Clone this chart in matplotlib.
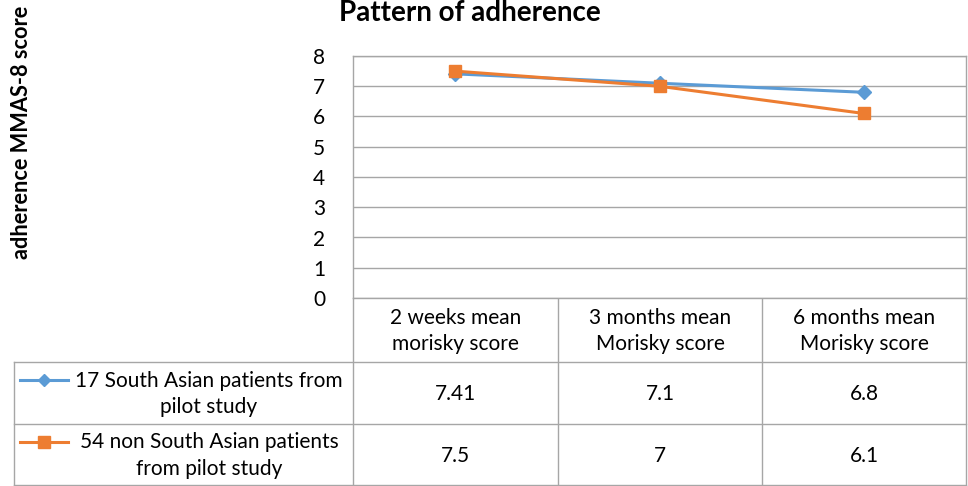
import matplotlib.pyplot as plt
import numpy as np

plt.rcParams['font.family'] = ['Lato', 'DejaVu Sans']

# data
categories = ['2 weeks mean\nmorisky score', '3 months mean\nMorisky score', '6 months mean\nMorisky score']
series_names = ['17 South Asian patients from\npilot study', '54 non South Asian patients\nfrom pilot study']
south_asian = [7.41, 7.1, 6.8]
non_south_asian = [7.5, 7, 6.1]
value_labels = [['7.41', '7.1', '6.8'], ['7.5', '7', '6.1']]
yticks = [0, 1, 2, 3, 4, 5, 6, 7, 8]

blue = '#5B9BD5'
orange = '#ED7D31'
grid = '#A6A6A6'

W, H = 968, 486
fig = plt.figure(figsize=(W / 100, H / 100), dpi=100)

# pixel helpers for placing the plot box
left, right, top, bottom = 353, 966, 56, 298
ax = fig.add_axes([left / W, 1 - bottom / H, (right - left) / W, (bottom - top) / H])
x = np.arange(len(categories)) + 0.5
ax.plot(x, south_asian, color=blue, lw=2.2, marker='D', ms=7, zorder=3)
ax.plot(x, non_south_asian, color=orange, lw=2.2, marker='s', ms=8.5, zorder=3)
ax.set_xlim(0, len(categories))
ax.set_ylim(0, 8)
ax.set_yticks(yticks)
ax.set_yticklabels([str(t) for t in yticks], fontsize=15)
ax.tick_params(axis='y', length=0, pad=20)
ax.set_xticks([])
ax.grid(axis='y', color=grid, lw=1)
for s in ax.spines.values():
    s.set_color(grid)
    s.set_linewidth(1)
ax.set_axisbelow(True)

fig.text(470 / W, 1 - 21 / H, 'Pattern of adherence', ha='center', va='baseline',
         fontsize=20, fontweight='bold')
fig.text(22 / W, 1 - 132 / H, 'adherence MMAS-8 score', ha='center', va='center',
         rotation=90, fontsize=15.7, fontweight='bold')

# data table below the plot
tb = fig.add_axes([0, 0, 1, 1], zorder=-1)
tb.set_xlim(0, W)
tb.set_ylim(H, 0)
tb.axis('off')
cols = [353, 558, 762, 966]
rows = [298, 362, 424, 485]
for cx in cols:
    tb.plot([cx, cx], [rows[0], rows[-1]], color=grid, lw=1)
tb.plot([14, 14], [rows[1], rows[-1]], color=grid, lw=1)
for ry in rows[1:]:
    tb.plot([14, 966], [ry, ry], color=grid, lw=1)

for i, cat in enumerate(categories):
    cx = (cols[i] + cols[i + 1]) / 2
    tb.text(cx, (rows[0] + rows[1]) / 2 + 1, cat, ha='center', va='center',
            fontsize=15, linespacing=1.4)

colors = [blue, orange]
markers = ['D', 's']
msizes = [6, 8]
for r, name in enumerate(series_names):
    y0 = rows[r + 1]
    cy = (rows[r + 1] + rows[r + 2]) / 2
    tb.plot([20, 68], [y0 + 18, y0 + 18], color=colors[r], lw=2.2)
    tb.plot([44], [y0 + 18], marker=markers[r], color=colors[r], ms=msizes[r])
    tb.text(209, cy + 1, name, ha='center', va='center', fontsize=15, linespacing=1.4)
    for i, v in enumerate(value_labels[r]):
        cx = (cols[i] + cols[i + 1]) / 2
        tb.text(cx, cy + 1, v, ha='center', va='center', fontsize=15)

fig.savefig('out.png', dpi=100)
